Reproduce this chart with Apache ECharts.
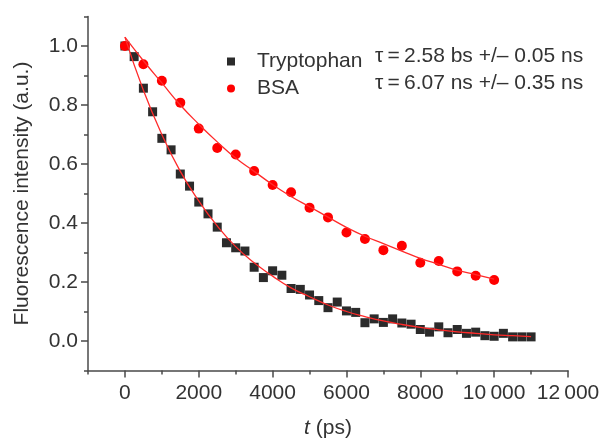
<!DOCTYPE html>
<html>
<head>
<meta charset="utf-8">
<script src="https://cdn.jsdelivr.net/npm/echarts@6/dist/echarts.min.js"></script>
<style>
html,body{margin:0;padding:0;background:#fff;}
#chart{width:602px;height:439px;}
</style>
</head>
<body>
<div id="chart"></div>
<script>
// ---- data ----
const trpTime = [0,250,500,750,1000,1250,1500,1750,2000,2250,2500,2750,3000,3250,3500,3750,4000,4250,4500,4750,5000,5250,5500,5750,6000,6250,6500,6750,7000,7250,7500,7750,8000,8250,8500,8750,9000,9250,9500,9750,10000,10250,10500,10750,11000];
const trpValues = [1.0,0.964,0.857,0.777,0.687,0.648,0.566,0.525,0.471,0.431,0.386,0.333,0.316,0.305,0.250,0.215,0.238,0.223,0.178,0.175,0.156,0.137,0.113,0.132,0.102,0.097,0.062,0.075,0.063,0.075,0.061,0.057,0.039,0.030,0.048,0.028,0.039,0.026,0.030,0.018,0.016,0.026,0.014,0.014,0.014];

const bsaTime = [0,500,1000,1500,2000,2500,3000,3500,4000,4500,5000,5500,6000,6500,7000,7500,8000,8500,9000,9500,10000];
const bsaValues = [1.0,0.938,0.882,0.808,0.720,0.654,0.632,0.576,0.529,0.504,0.452,0.419,0.368,0.346,0.308,0.323,0.265,0.271,0.236,0.221,0.207];

// fitted curves
const trpFitTime = [0,500,1000,1500,2000,2500,3000,3500,4000,4500,5000,5500,6000,6500,7000,7500,8000,8500,9000,9500,10000,10500,11000];
const trpFitValues = [1.03,0.85,0.70,0.575,0.475,0.39,0.32,0.265,0.22,0.18,0.15,0.122,0.10,0.083,0.068,0.056,0.046,0.038,0.031,0.026,0.021,0.018,0.015];
const bsaFitTime = [0,500,1000,1500,2000,2500,3000,3500,4000,4500,5000,5500,6000,6500,7000,7500,8000,8500,9000,9500,10000];
const bsaFitValues = [1.03,0.95,0.875,0.80,0.735,0.675,0.62,0.575,0.53,0.49,0.455,0.42,0.385,0.355,0.33,0.305,0.28,0.26,0.24,0.225,0.21];

const xLabelValues = [0,2000,4000,6000,8000,10000,12000];
const xMinorTicks = [-1000,1000,3000,5000,7000,9000,11000];
const yLabelValues = [0,0.2,0.4,0.6,0.8,1.0];
const yMinorTicks = [-0.1,0.1,0.3,0.5,0.7,0.9,1.1];

const seriesNames = ['Tryptophan','BSA'];
const tauTexts = ['\u03c4\u2009=\u20092.58 bs +/\u2013 0.05 ns','\u03c4\u2009=\u20096.07 ns +/\u2013 0.35 ns'];

const zip = (a,b) => a.map((v,i) => [v,b[i]]);

const FONT = 'Liberation Sans, Arial, sans-serif';
const AX = '#4a4a4a';
const TXT = '#333333';

const chart = echarts.init(document.getElementById('chart'), null, {renderer:'canvas'});
chart.setOption({
  backgroundColor:'#ffffff',
  animation:false,
  textStyle:{fontFamily:FONT},
  grid:{left:88,right:34,top:16.5,bottom:68.5,containLabel:false,outerBoundsMode:'none'},
  legend:{
    orient:'vertical', left:222, top:46,
    itemWidth:8, itemHeight:8, itemGap:6, symbolKeepAspect:true,
    textStyle:{fontSize:21,color:TXT,fontFamily:FONT,lineHeight:21,padding:[0,0,0,17]},
    data:seriesNames
  },
  xAxis:[{
    type:'value', min:-1000, max:12000, interval:1000,
    splitLine:{show:false},
    axisLine:{show:true,onZero:false,lineStyle:{color:AX,width:1.5}},
    axisTick:{show:true,inside:false,length:7,customValues:xLabelValues,lineStyle:{color:AX,width:1.5}},
    axisLabel:{customValues:xLabelValues,fontSize:21,color:TXT,margin:12,fontFamily:FONT,
      formatter:v => v>=10000 ? String(v).slice(0,-3)+'\u2009'+String(v).slice(-3) : String(v)},
    name:'{i|t} (ps)', nameLocation:'middle', nameGap:47,
    nameTextStyle:{fontSize:21,color:TXT,fontFamily:FONT,rich:{i:{fontStyle:'italic',fontSize:21,color:TXT,fontFamily:FONT}}}
  },{
    type:'value', min:-1000, max:12000, interval:1000, position:'bottom',
    splitLine:{show:false}, axisLine:{show:false,onZero:false},
    axisTick:{show:true,length:4,customValues:xMinorTicks,lineStyle:{color:AX,width:1.5}},
    axisLabel:{show:false}
  }],
  yAxis:[{
    type:'value', min:-0.1, max:1.1, interval:0.1,
    splitLine:{show:false},
    axisLine:{show:true,onZero:false,lineStyle:{color:AX,width:1.5}},
    axisTick:{show:true,length:7,customValues:yLabelValues,lineStyle:{color:AX,width:1.5}},
    axisLabel:{customValues:yLabelValues,fontSize:21,color:TXT,margin:10,fontFamily:FONT,
      formatter:v => v.toFixed(1)},
    name:'Fluorescence intensity (a.u.)', nameLocation:'middle', nameGap:55,
    nameTextStyle:{fontSize:21,color:TXT,fontFamily:FONT}
  },{
    type:'value', min:-0.1, max:1.1, interval:0.1, position:'left',
    splitLine:{show:false}, axisLine:{show:false,onZero:false},
    axisTick:{show:true,length:4,customValues:yMinorTicks,lineStyle:{color:AX,width:1.5}},
    axisLabel:{show:false}
  }],
  graphic:[
    {type:'text', left:375, top:46, style:{text:tauTexts[0], font:'21px '+FONT, fill:TXT}},
    {type:'text', left:375, top:73, style:{text:tauTexts[1], font:'21px '+FONT, fill:TXT}}
  ],
  series:[
    {name:'Tryptophan', type:'scatter', symbol:'rect', symbolSize:9,
      itemStyle:{color:'#2b2b2b',opacity:1}, data:zip(trpTime,trpValues), z:3},
    {name:'BSA', type:'scatter', symbol:'circle', symbolSize:10,
      itemStyle:{color:'#ff0000',opacity:1}, data:zip(bsaTime,bsaValues), z:3},
    {name:'Tryptophan fit', type:'line', smooth:true, showSymbol:false, symbol:'none',
      lineStyle:{color:'#ff2a2a',width:1.3}, data:zip(trpFitTime,trpFitValues), z:4},
    {name:'BSA fit', type:'line', smooth:true, showSymbol:false, symbol:'none',
      lineStyle:{color:'#ff2a2a',width:1.3}, data:zip(bsaFitTime,bsaFitValues), z:4}
  ]
});
</script>
</body>
</html>
